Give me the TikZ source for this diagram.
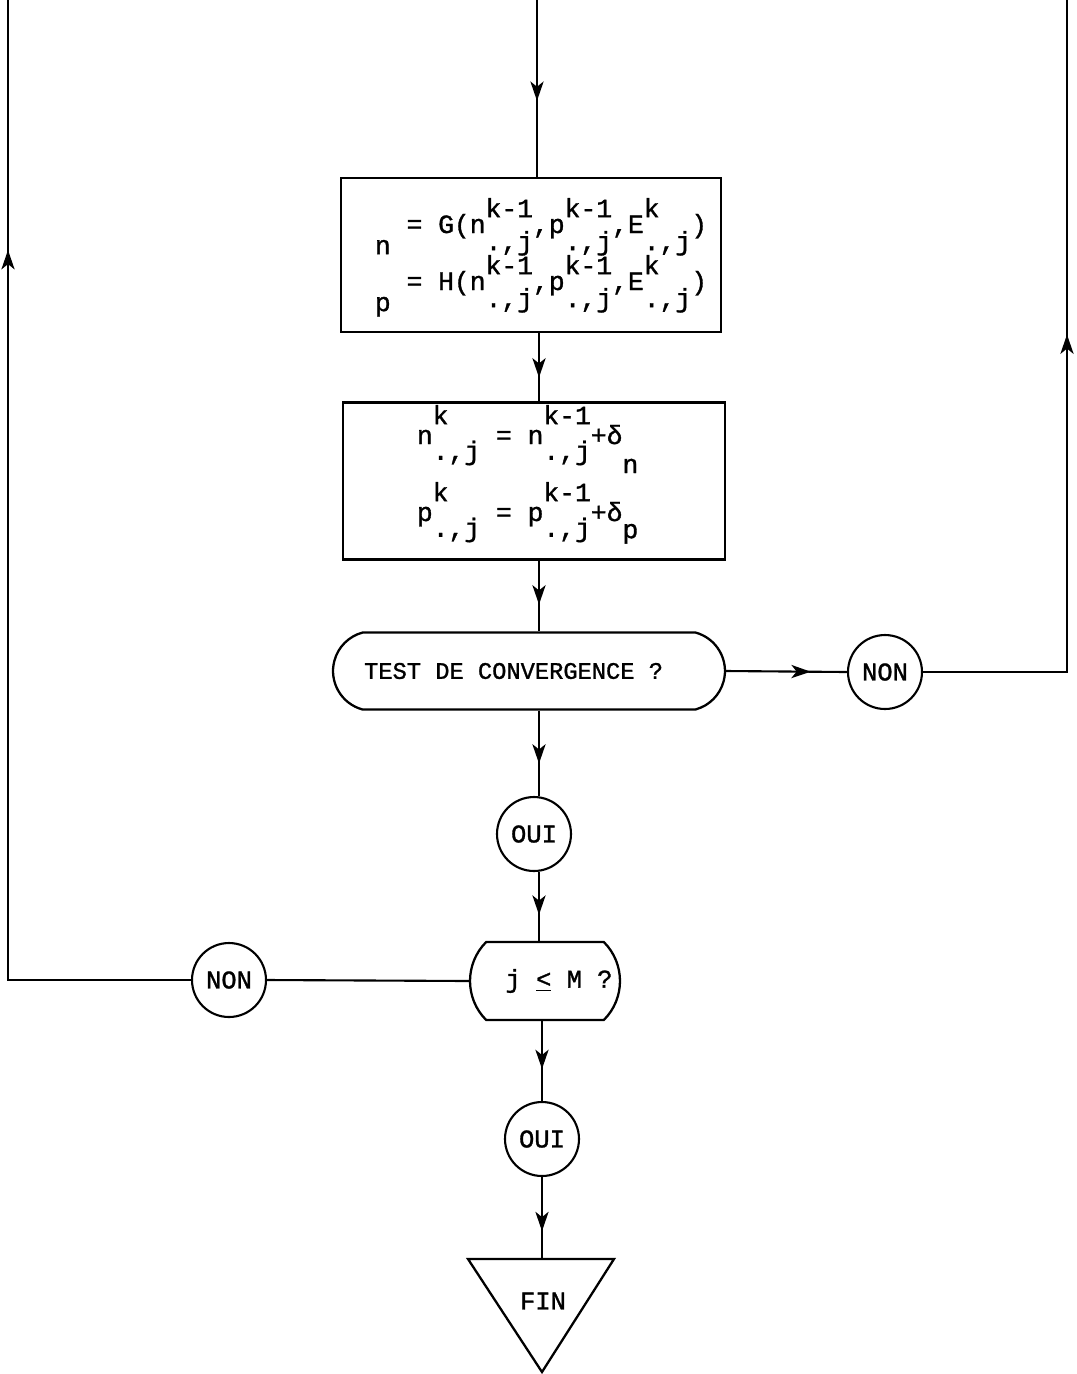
\documentclass[tikz,border=0pt]{standalone}
\usepackage{fontspec}
\setmainfont{Liberation Mono}[FakeBold=1.2]
\usepackage{tikz}
\usetikzlibrary{shapes.misc,arrows.meta,decorations.markings}

% stacked super/subscript at full size, typewriter style
\newcommand{\stk}[4]{\setbox0\hbox{#3}\setbox2\hbox{#4}%
    \ifdim\wd0>\wd2 \wd2=\wd0 \fi
    \rlap{\raisebox{#1}{\box0}}\raisebox{-#2}{\box2}}
\newcommand{\hb}[2]{\stk{0.6em}{0.65em}{#1}{#2}}
\newcommand{\bb}[2]{\stk{0.75em}{0.6em}{#1}{#2}}

\begin{document}
\begin{tikzpicture}[x=0.02cm,y=-0.02cm,line width=1.2pt,
    every node/.style={font=\fontsize{15}{17}\selectfont},
    etiq/.style={font=\fontsize{14.5}{16}\selectfont},
    box/.style={draw,line width=1.3pt,inner sep=0pt},
    pill/.style={draw,line width=1.3pt,rounded rectangle,inner sep=0pt},
    bulle/.style={draw,circle,line width=1.2pt,inner sep=0pt,minimum size=1.48cm,etiq},
    midarrow/.style={postaction={decorate},decoration={markings,
        mark=at position #1 with {\arrow{Stealth[length=11pt,width=7.5pt,inset=3pt]}}}}]
        \useasboundingbox (0,0) rectangle (1077,1374);

        \coordinate (spine) at (539,0);
        \coordinate (spinebas) at (542,0);
        \coordinate (entree) at (537,0);
        \coordinate (retourd) at (1067,0);
        \coordinate (retourg) at (8,0);

        % calcul de n et p
        \node[box,minimum width=7.6cm,minimum height=3.08cm] (calc) at (531,255) {};
        \node[anchor=base west] (calcn) at (368,233)
            {\raisebox{-0.8em}{n} = G(n\hb{k-1}{.,j},p\hb{k-1}{.,j},E\hb{k}{.,j})};
        \node[anchor=base west] (calcp) at (368,290)
            {\raisebox{-0.8em}{p} = H(n\hb{k-1}{.,j},p\hb{k-1}{.,j},E\hb{k}{.,j})};

        % mise a jour
        \node[box,minimum width=7.64cm,minimum height=3.14cm] (maj) at (534,481) {};
        \node[anchor=base west] (majn) at (410,444)
            {n\bb{k}{.,j} = n\bb{k-1}{.,j}+δ\raisebox{-1.1em}{n}};
        \node[anchor=base west] (majp) at (410,521)
            {p\bb{k}{.,j} = p\bb{k-1}{.,j}+δ\raisebox{-0.65em}{p}};

        % tests
        \node[pill,rounded rectangle arc length=150,minimum width=7.84cm,minimum height=1.54cm,
            font=\fontsize{13.5}{15}\selectfont]
            (conv) at (529,671) {TEST DE CONVERGENCE ?\kern1.3em};
        \node[bulle] (non1) at (885,672) {NON};
        \node[bulle] (oui1) at (534,834) {OUI};
        \node[pill,etiq,rounded rectangle arc length=90,minimum width=3.0cm,minimum height=1.56cm]
            (jtest) at (545,981) {\hspace{1.1em}j \underline{<} M ?};
        \node[bulle] (non2) at (229,980) {NON};
        \node[bulle] (oui2) at (542,1139) {OUI};

        % fin
        \draw[line width=1.3pt] (468,1259) -- (614,1259) -- (542,1372) -- cycle;
        \coordinate (fin) at (542,1259);
        \node[etiq] (fintxt) at (543,1301) {FIN};

        % liaisons
        \draw[midarrow=0.57] (entree) -- (calc.north -| entree);
        \draw[midarrow=0.65] (calc.south -| spine) -- (maj.north -| spine);
        \draw[midarrow=0.62] (maj.south -| spine) -- (conv.north -| spine);
        \draw[midarrow=0.7] (conv.east) -- (non1.west);
        \draw[midarrow=0.59] (non1.east) -| (retourd);
        \draw[midarrow=0.62] (conv.south -| spine) -- (oui1.north -| spine);
        \draw[midarrow=0.62] (oui1.south -| spine) -- (jtest.north -| spine);
        \draw (jtest.west) -- (non2.east);
        \draw[midarrow=0.785] (non2.west) -| (retourg);
        \draw[midarrow=0.6] (jtest.south -| spinebas) -- (oui2.north -| spinebas);
        \draw[midarrow=0.66] (oui2.south) -- (fin);
\end{tikzpicture}
\end{document}
